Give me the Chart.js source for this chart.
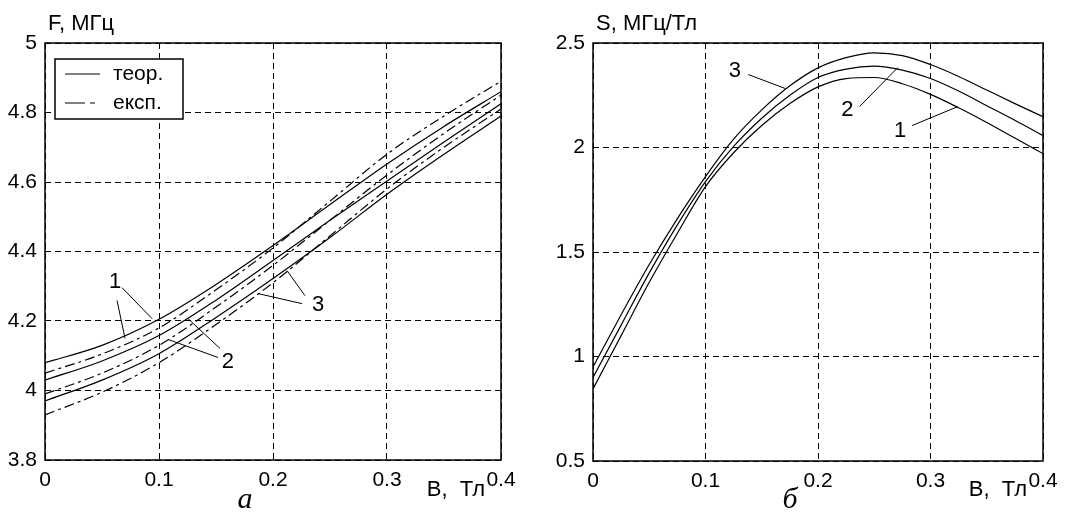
<!DOCTYPE html>
<html>
<head>
<meta charset="utf-8">
<script src="https://cdn.jsdelivr.net/npm/chart.js@4.4.0/dist/chart.umd.min.js"></script>
<style>
    html, body { margin: 0; padding: 0; background: #fff; }
    #wrap { position: relative; width: 1085px; height: 515px; }
    canvas { position: absolute; top: 0; }
</style>
</head>
<body>
<div id="wrap">
    <canvas id="freqChart" width="540" height="515" style="left:0"></canvas>
    <canvas id="slopeChart" width="545" height="515" style="left:540px"></canvas>
</div>
<script>
// --- data ---
const bFreq = [0, 0.05, 0.1, 0.15, 0.2, 0.25, 0.3, 0.35, 0.4];
const freqTheory1 = [4.08, 4.13, 4.205, 4.305, 4.417, 4.535, 4.652, 4.76, 4.86];
const freqTheory2 = [4.03, 4.085, 4.158, 4.26, 4.374, 4.49, 4.603, 4.715, 4.825];
const freqTheory3 = [3.97, 4.03, 4.106, 4.21, 4.322, 4.44, 4.565, 4.68, 4.79];
const freqExp1 = [4.05, 4.105, 4.18, 4.29, 4.41, 4.545, 4.68, 4.79, 4.89];
const freqExp2 = [3.99, 4.05, 4.13, 4.24, 4.36, 4.49, 4.62, 4.74, 4.85];
const freqExp3 = [3.93, 3.995, 4.08, 4.19, 4.31, 4.445, 4.58, 4.70, 4.81];

const bSlope = [0, 0.025, 0.05, 0.075, 0.1, 0.125, 0.15, 0.175, 0.2, 0.225, 0.25, 0.275, 0.3, 0.325, 0.35, 0.375, 0.4];
const slope1 = [0.845, 1.10, 1.355, 1.59, 1.813, 1.975, 2.105, 2.21, 2.29, 2.33, 2.335, 2.305, 2.254, 2.19, 2.12, 2.045, 1.971];
const slope2 = [0.90, 1.15, 1.40, 1.63, 1.837, 2.005, 2.14, 2.25, 2.335, 2.375, 2.389, 2.37, 2.33, 2.27, 2.20, 2.13, 2.057];
const slope3 = [0.95, 1.20, 1.44, 1.66, 1.861, 2.04, 2.18, 2.295, 2.381, 2.43, 2.453, 2.44, 2.397, 2.34, 2.275, 2.21, 2.147];

const legendLabels = ['теор.', 'експ.'];
const curveNames = ['1', '2', '3'];

// curve number callouts, in data units (label point + leader lines)
const freqNotes = [
    { text: curveNames[0], x: 0.0614, y: 4.311, leaders: [[0.0675, 4.296, 0.0939, 4.207], [0.0632, 4.259, 0.0702, 4.150]] },
    { text: curveNames[1], x: 0.1605, y: 4.081, leaders: [[0.1535, 4.121, 0.1254, 4.207], [0.1518, 4.095, 0.1079, 4.147]] },
    { text: curveNames[2], x: 0.2395, y: 4.245, leaders: [[0.228, 4.273, 0.2123, 4.345], [0.2254, 4.250, 0.1868, 4.279]] }
];
const slopeNotes = [
    { text: curveNames[2], x: 0.126, y: 2.364, leaders: [[0.138, 2.349, 0.171, 2.282]] },
    { text: curveNames[1], x: 0.226, y: 2.182, leaders: [[0.237, 2.196, 0.271, 2.383]] },
    { text: curveNames[0], x: 0.273, y: 2.077, leaders: [[0.2836, 2.105, 0.3244, 2.196]] }
];

const FONT = '"Liberation Sans", Arial, sans-serif';
const DASH_EXP = [10, 4, 3, 4];

function pairs(xs, ys) {
    return xs.map((x, i) => ({ x: x, y: ys[i] }));
}

function lineSet(xs, ys, dashed) {
    return {
        data: pairs(xs, ys),
        borderColor: '#000',
        borderWidth: 1.2,
        borderDash: dashed ? DASH_EXP : [],
        pointRadius: 0,
        cubicInterpolationMode: 'monotone',
        fill: false
    };
}

// plain tick text: 5, 4.8, 0.1 ... (no padded decimals)
function plainTick(value) {
    return String(Number(value.toFixed(3)));
}

const sketchPlugin = {
    id: 'sketch',
    afterDraw(chart, args, opts) {
        const { ctx, chartArea: a, scales: { x, y } } = chart;
        ctx.save();

        // callouts
        ctx.strokeStyle = '#000';
        ctx.fillStyle = '#000';
        ctx.lineWidth = 1;
        ctx.font = '22px ' + FONT;
        ctx.textAlign = 'center';
        ctx.textBaseline = 'middle';
        opts.notes.forEach(n => {
            n.leaders.forEach(l => {
                ctx.beginPath();
                ctx.moveTo(x.getPixelForValue(l[0]), y.getPixelForValue(l[1]));
                ctx.lineTo(x.getPixelForValue(l[2]), y.getPixelForValue(l[3]));
                ctx.stroke();
            });
            ctx.fillText(n.text, x.getPixelForValue(n.x), y.getPixelForValue(n.y));
        });

        // legend box
        if (opts.legend) {
            const lx = a.left + 10, ly = a.top + 16;
            ctx.fillStyle = '#fff';
            ctx.fillRect(lx, ly, 128, 60);
            ctx.lineWidth = 1.5;
            ctx.strokeRect(lx, ly, 128, 60);
            ctx.lineWidth = 1.2;
            ctx.beginPath();
            ctx.moveTo(lx + 10, ly + 15);
            ctx.lineTo(lx + 45, ly + 15);
            ctx.stroke();
            ctx.setLineDash([20, 5, 5, 5]);
            ctx.beginPath();
            ctx.moveTo(lx + 10, ly + 44);
            ctx.lineTo(lx + 45, ly + 44);
            ctx.stroke();
            ctx.setLineDash([]);
            ctx.fillStyle = '#000';
            ctx.font = '21px ' + FONT;
            ctx.textAlign = 'left';
            ctx.fillText(legendLabels[0], lx + 58, ly + 15);
            ctx.fillText(legendLabels[1], lx + 58, ly + 44);
        }

        // frame
        ctx.lineWidth = 1.5;
        ctx.strokeStyle = '#000';
        ctx.strokeRect(a.left, a.top, a.right - a.left, a.bottom - a.top);

        // axis captions
        ctx.fillStyle = '#000';
        ctx.font = '22px ' + FONT;
        ctx.textAlign = 'left';
        ctx.textBaseline = 'middle';
        ctx.fillText(opts.yTitle, a.left + 3, 24);
        ctx.textAlign = 'right';
        ctx.fillText('B,  Тл', a.right - 16, 490);
        ctx.textAlign = 'center';
        ctx.font = 'italic 30px "Liberation Serif", "Times New Roman", serif';
        ctx.fillText(opts.panel, a.left + opts.panelOffset, 500);
        ctx.restore();
    }
};

function makeOptions(yMin, yMax, yStep, yWidth, xHeight, padRight, extra) {
    const tickFont = { family: FONT, size: 21 };
    return {
        responsive: false,
        animation: false,
        locale: 'en-US',
        layout: { padding: { top: 43, right: padRight, left: 0, bottom: 0 } },
        scales: {
            x: {
                type: 'linear',
                min: 0,
                max: 0.4,
                ticks: { stepSize: 0.1, color: '#000', font: tickFont, padding: 8, maxRotation: 0, minRotation: 0, autoSkip: false, callback: plainTick },
                grid: { color: '#000', lineWidth: 1, drawTicks: false },
                border: { display: false, dash: [6, 4] },
                afterFit(scale) { scale.height = xHeight; }
            },
            y: {
                type: 'linear',
                min: yMin,
                max: yMax,
                ticks: { stepSize: yStep, color: '#000', font: tickFont, padding: 8, callback: plainTick },
                grid: { color: '#000', lineWidth: 1, drawTicks: false },
                border: { display: false, dash: [6, 4] },
                afterFit(scale) { scale.width = yWidth; }
            }
        },
        plugins: {
            legend: { display: false },
            tooltip: { enabled: false },
            sketch: extra
        }
    };
}

new Chart(document.getElementById('freqChart').getContext('2d'), {
    type: 'line',
    data: {
        datasets: [
            lineSet(bFreq, freqTheory1, false),
            lineSet(bFreq, freqTheory2, false),
            lineSet(bFreq, freqTheory3, false),
            lineSet(bFreq, freqExp1, true),
            lineSet(bFreq, freqExp2, true),
            lineSet(bFreq, freqExp3, true)
        ]
    },
    options: makeOptions(3.8, 5, 0.2, 45, 55, 39, {
        notes: freqNotes, legend: true, yTitle: 'F, МГц', panel: 'а', panelOffset: 200
    }),
    plugins: [sketchPlugin]
});

new Chart(document.getElementById('slopeChart').getContext('2d'), {
    type: 'line',
    data: {
        datasets: [
            lineSet(bSlope, slope1, false),
            lineSet(bSlope, slope2, false),
            lineSet(bSlope, slope3, false)
        ]
    },
    options: makeOptions(0.5, 2.5, 0.5, 53, 54, 42, {
        notes: slopeNotes, legend: false, yTitle: 'S, МГц/Тл', panel: 'б', panelOffset: 197
    }),
    plugins: [sketchPlugin]
});
</script>
</body>
</html>
